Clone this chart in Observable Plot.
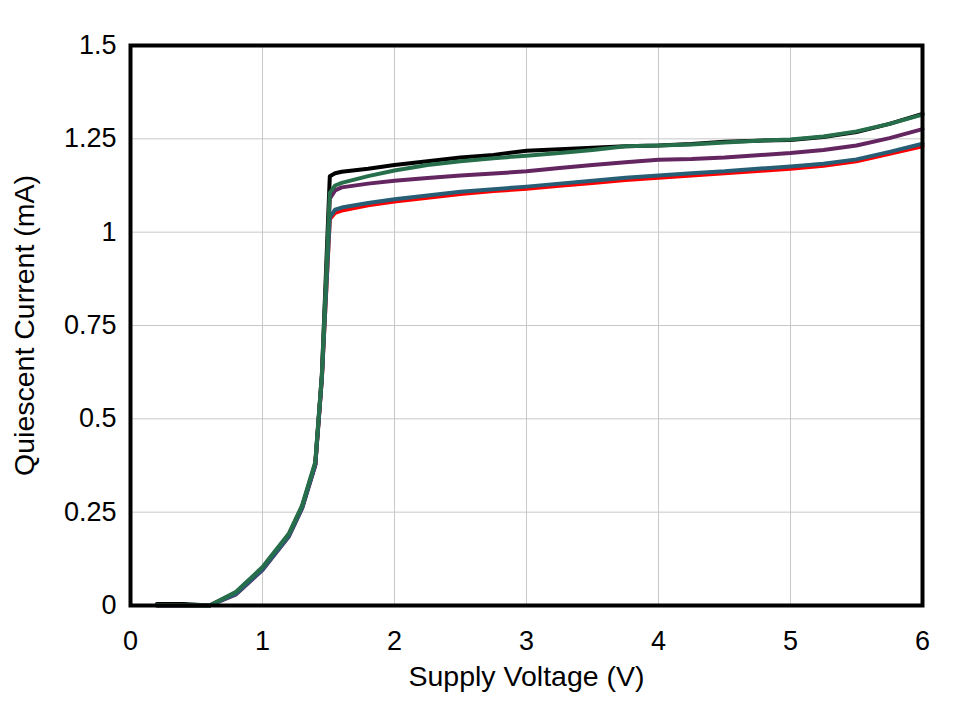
<!DOCTYPE html>
<html>
<head>
<meta charset="utf-8">
<script src="https://cdn.jsdelivr.net/npm/d3@7"></script>
<script src="https://cdn.jsdelivr.net/npm/@observablehq/plot@0.6"></script>
<style>
html,body{margin:0;padding:0;background:#fff;}
svg{display:block;}
</style>
</head>
<body>
<div id="chart"></div>
<script>
// Supply voltage (V)
const voltage = [0.2, 0.4, 0.6, 0.8, 1.0, 1.2, 1.3, 1.4, 1.45, 1.51, 1.55, 1.6, 1.8, 2.0, 2.25, 2.5, 2.75, 3.0, 3.25, 3.5, 3.75, 4.0, 4.25, 4.5, 4.75, 5.0, 5.25, 5.5, 5.75, 6.0];

// Quiescent current (mA) per series
const seriesBlack  = [0.004, 0.004, 0.0, 0.035, 0.100, 0.190, 0.265, 0.380, 0.62, 1.150, 1.158, 1.162, 1.170, 1.180, 1.190, 1.200, 1.207, 1.218, 1.222, 1.226, 1.230, 1.232, 1.236, 1.242, 1.245, 1.247, 1.255, 1.268, 1.290, 1.317];
const seriesGreen  = [0.001, 0.001, 0.0, 0.037, 0.103, 0.193, 0.268, 0.385, 0.62, 1.105, 1.125, 1.132, 1.150, 1.165, 1.180, 1.190, 1.198, 1.205, 1.212, 1.220, 1.230, 1.232, 1.235, 1.240, 1.245, 1.248, 1.256, 1.270, 1.290, 1.315];
const seriesPurple = [0.000, 0.000, 0.0, 0.030, 0.095, 0.185, 0.260, 0.375, 0.61, 1.090, 1.112, 1.120, 1.130, 1.138, 1.145, 1.152, 1.157, 1.163, 1.172, 1.180, 1.187, 1.194, 1.196, 1.200, 1.206, 1.212, 1.220, 1.232, 1.252, 1.276];
const seriesTeal   = [0.000, 0.000, 0.0, 0.032, 0.097, 0.187, 0.262, 0.378, 0.61, 1.040, 1.060, 1.066, 1.078, 1.088, 1.098, 1.108, 1.115, 1.122, 1.130, 1.138, 1.146, 1.152, 1.158, 1.163, 1.170, 1.176, 1.183, 1.195, 1.215, 1.237];
const seriesRed    = [0.000, 0.000, 0.0, 0.033, 0.098, 0.188, 0.263, 0.378, 0.61, 1.035, 1.052, 1.058, 1.072, 1.082, 1.092, 1.102, 1.110, 1.116, 1.124, 1.132, 1.140, 1.146, 1.152, 1.158, 1.164, 1.170, 1.178, 1.190, 1.210, 1.230];

const seriesNames  = ["S1", "S2", "S3", "S4", "S5"];
const seriesColors = ["#000000", "#ff0000", "#642660", "#275e76", "#276e4b"];
const seriesValues = [seriesBlack, seriesRed, seriesPurple, seriesTeal, seriesGreen];

const xTicks = [0, 1, 2, 3, 4, 5, 6];
const yTicks = [0, 0.25, 0.5, 0.75, 1, 1.25, 1.5];

const xLabel = "Supply Voltage (V)";
const yLabel = "Quiescent Current (mA)";

const data = [];
seriesNames.forEach((name, i) => {
  voltage.forEach((v, j) => data.push({series: name, v, i: seriesValues[i][j]}));
});

const font = "Liberation Sans, Arial, sans-serif";

const chart = Plot.plot({
  width: 956,
  height: 701,
  marginLeft: 130,
  marginRight: 34,
  marginTop: 45,
  marginBottom: 96,
  style: {fontFamily: font, background: "#fff"},
  x: {domain: [0, 6]},
  y: {domain: [0, 1.5]},
  color: {domain: seriesNames, range: seriesColors},
  marks: [
    Plot.gridX(xTicks, {stroke: "#c8c8c8", strokeOpacity: 1, strokeWidth: 1}),
    Plot.gridY(yTicks, {stroke: "#c8c8c8", strokeOpacity: 1, strokeWidth: 1}),
    Plot.line(data, {x: "v", y: "i", z: "series", stroke: "series", strokeWidth: 4, curve: "linear"}),
    Plot.frame({stroke: "#000", strokeWidth: 4}),
    Plot.axisX(xTicks, {tickSize: 0, tickPadding: 25, fontSize: 27, label: null, fill: "#000", tickFormat: d => String(d)}),
    Plot.axisY(yTicks, {tickSize: 0, tickPadding: 14, fontSize: 27, label: null, fill: "#000", tickFormat: d => String(d)}),
    Plot.text([xLabel], {frameAnchor: "bottom", dy: 71, textAnchor: "middle", lineAnchor: "middle", fontSize: 28.5, fill: "#000", text: d => d}),
    Plot.text([yLabel], {frameAnchor: "left", dx: -106, rotate: -90, textAnchor: "middle", lineAnchor: "middle", fontSize: 28.5, fill: "#000", text: d => d})
  ]
});
document.getElementById("chart").appendChild(chart);
</script>
</body>
</html>
